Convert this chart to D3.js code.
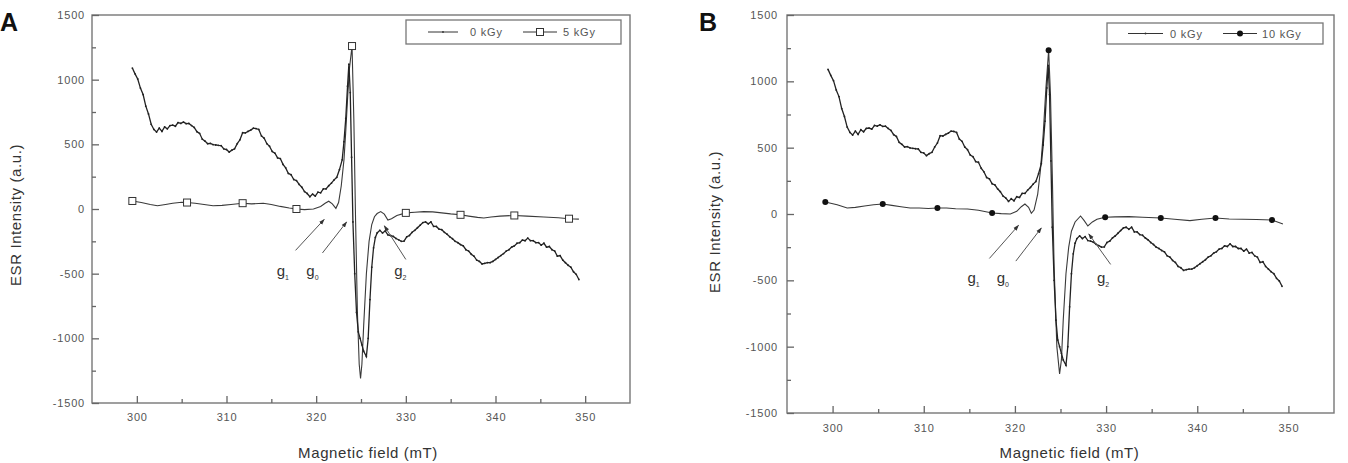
<!DOCTYPE html>
<html>
<head>
<meta charset="utf-8">
<script src="https://cdn.jsdelivr.net/npm/d3@7"></script>
<style>
  body { margin: 0; background: #fff; }
  svg { font-family: Arial, "Liberation Sans", sans-serif; }
  .tick text { fill: #555; font-size: 11px; letter-spacing: 0.8px; }
  .tick line { stroke: #666; stroke-width: 1.3; }
  .axis-label { fill: #333; font-size: 15px; letter-spacing: 0.6px; }
  .legend-text { fill: #555; font-size: 11px; letter-spacing: 0.8px; }
</style>
</head>
<body>
<svg id="chart" width="1348" height="463"></svg>
<script>
// 1: DATA, field in mT, intensity in a.u.
const fieldTicks = [300, 310, 320, 330, 340, 350];
const fieldMinorTicks = [305, 315, 325, 335, 345];
const intensityTicks = [-1500, -1000, -500, 0, 500, 1000, 1500];
const intensityMinorTicks = [-1250, -750, -250, 250, 750, 1250];

// unirradiated spectrum (same in both panels)
const field0 = [
  299.5, 299.8, 300.1, 300.4, 300.7, 301.0, 301.3, 301.6, 301.9, 302.2, 302.5, 302.8, 303.1, 303.4, 303.7,
  304.0, 304.3, 304.6, 304.9, 305.2, 305.5, 305.8, 306.1, 306.4, 306.7, 307.0, 307.3, 307.6, 307.9, 308.2,
  308.5, 308.8, 309.1, 309.4, 309.7, 310.0, 310.3, 310.6, 310.9, 311.2, 311.5, 311.8, 312.1, 312.4, 312.7,
  313.0, 313.3, 313.6, 313.9, 314.2, 314.5, 314.8, 315.1, 315.4, 315.7, 316.0, 316.3, 316.6, 316.9, 317.2,
  317.5, 317.8, 318.1, 318.4, 318.7, 319.0, 319.3, 319.6, 319.9, 320.2, 320.5, 320.8, 321.1, 321.4, 321.7,
  322.0, 322.3, 322.6, 322.9, 323.1, 323.3, 323.5, 323.65, 323.8, 323.95, 324.1, 324.3, 324.5, 324.7, 324.9,
  325.1, 325.3, 325.6, 325.8, 326.0, 326.2, 326.4, 326.6, 326.8, 327.1, 327.4, 327.7, 328.0, 328.3, 328.6,
  328.9, 329.2, 329.5, 329.8, 330.1, 330.4, 330.7, 331.0, 331.3, 331.6, 331.9, 332.2, 332.5, 332.8, 333.1,
  333.4, 333.7, 334.0, 334.3, 334.6, 334.9, 335.2, 335.5, 335.8, 336.1, 336.4, 336.7, 337.0, 337.3, 337.6,
  337.9, 338.2, 338.5, 338.8, 339.1, 339.4, 339.7, 340.0, 340.3, 340.6, 340.9, 341.2, 341.5, 341.8, 342.1,
  342.4, 342.7, 343.0, 343.3, 343.6, 343.9, 344.2, 344.5, 344.8, 345.1, 345.4, 345.7, 346.0, 346.3, 346.6,
  346.9, 347.2, 347.5, 347.8, 348.1, 348.4, 348.7, 349.0, 349.3
];
const intensity0 = [
  1090, 1045, 1005, 935, 885, 795, 735, 655, 615, 595, 625, 600, 635, 620, 645,
  648, 640, 668, 662, 672, 660, 662, 645, 630, 598, 585, 540, 525, 505, 508,
  498, 495, 492, 490, 465, 460, 440, 455, 465, 505, 535, 590, 588, 600, 610,
  625, 622, 615, 565, 548, 505, 485, 445, 432, 395, 390, 345, 318, 275, 265,
  228, 220, 190, 168, 135, 120, 95, 115, 100, 130, 125, 155, 155, 180, 200,
  225, 245, 305, 380, 520, 700, 950, 1120, 900, 400, -100, -500, -800, -950, -1000,
  -1050, -1100, -1140, -1000, -700, -450, -300, -220, -185, -165, -185, -170, -200, -205, -212,
  -228, -238, -250, -248, -215, -205, -180, -165, -145, -125, -105, -100, -115, -100, -135,
  -135, -155, -160, -180, -195, -215, -230, -250, -260, -275, -285, -315, -325, -350, -365,
  -395, -405, -425, -420, -415, -415, -405, -390, -375, -360, -345, -325, -315, -295, -285,
  -265, -260, -240, -245, -225, -245, -245, -260, -260, -280, -265, -295, -290, -315, -325,
  -365, -360, -395, -415, -435, -450, -485, -505, -545
];

// 5 kGy spectrum (panel A)
const field5 = [
  299.5, 300.5, 301.5, 302.3, 303.2, 304.0, 305.0, 305.6, 306.5, 307.5, 308.5, 309.5, 310.5, 311.8, 312.8,
  314.1, 315.0, 316.0, 317.0, 317.8, 318.7, 319.7, 320.5, 321.0, 321.4, 321.8, 322.2, 322.5, 322.8, 323.1,
  323.3, 323.5, 323.7, 324.0, 324.2, 324.4, 324.6, 324.8, 324.95, 325.1, 325.3, 325.6, 325.9, 326.2, 326.5,
  326.8, 327.2, 327.6, 328.0, 328.4, 329.0, 330.0, 331.0, 332.0, 333.0, 334.0, 335.0, 336.1, 337.0, 338.0,
  338.7, 339.5, 340.5, 342.1, 343.5, 345.4, 347.0, 348.2, 349.3
];
const intensity5 = [
  62, 50, 35, 25, 35, 45, 52, 50, 45, 35, 25, 28, 35, 45, 40,
  45, 35, 20, 8, 0, -5, 0, 20, 45, 60, 40, 5, 50, 180, 380,
  600, 850, 1080, 1260, 700, -100, -800, -1200, -1310, -1200, -900, -500, -250, -120, -60,
  -35, -20, -40, -85, -75, -50, -30, -25, -20, -22, -30, -38, -45, -55, -65,
  -70, -62, -55, -50, -55, -62, -68, -75, -78
];
const markers5 = [[299.5, 62], [305.6, 50], [311.8, 45], [317.8, 0], [324.0, 1260],
  [330.0, -30], [336.1, -45], [342.1, -50], [348.2, -75]];

// 10 kGy spectrum (panel B)
const field10 = [
  299.2, 300.5, 301.6, 302.5, 303.5, 304.5, 305.5, 306.5, 307.5, 308.5, 309.5, 310.5, 311.5, 312.5, 313.5,
  314.8, 316.0, 317.5, 318.5, 319.5, 320.2, 320.7, 321.1, 321.5, 321.8, 322.1, 322.5, 322.8, 323.1, 323.4,
  323.7, 323.9, 324.1, 324.3, 324.6, 324.9, 325.1, 325.3, 325.6, 325.9, 326.2, 326.6, 327.2, 327.6, 328.0,
  328.5, 329.0, 329.9, 331.0, 332.5, 334.0, 336.0, 337.5, 339.2, 340.5, 342.0, 343.5, 345.0, 346.5, 348.2,
  349.4
];
const intensity10 = [
  90, 70, 45, 50, 60, 70, 75, 65, 55, 45, 45, 42, 45, 45, 40,
  38, 28, 8, 3, 0, 20, 55, 75, 50, 5, 30, 150, 330, 600, 950,
  1235, 900, 300, -400, -1000, -1205, -1100, -800, -450, -250, -130, -60, -15, -50, -90,
  -60, -40, -25, -22, -20, -25, -30, -40, -50, -40, -30, -38, -40, -42, -45,
  -75
];
const markers10 = [[299.2, 90], [305.5, 75], [311.5, 45], [317.5, 8], [323.7, 1235],
  [329.9, -25], [336.0, -30], [342.0, -30], [348.2, -45]];

// annotation arrows: [tail field, tail intensity, head field, head intensity, label, sub]
const arrowsA = [
  [317.7, -320, 320.9, -80, "g", "1"],
  [320.7, -340, 323.4, -100, "g", "0"],
  [330.0, -390, 327.6, -130, "g", "2"]
];
const arrowsB = [
  [317.2, -335, 320.4, -85, "g", "1"],
  [320.1, -355, 322.9, -105, "g", "0"],
  [330.5, -380, 328.1, -150, "g", "2"]
];

const svg = d3.select("#chart");

svg.append("defs").append("marker")
  .attr("id", "arrowhead")
  .attr("viewBox", "0 0 10 10")
  .attr("refX", 9).attr("refY", 5)
  .attr("markerWidth", 6).attr("markerHeight", 6)
  .attr("orient", "auto")
  .append("path")
  .attr("d", "M0,1.5 L10,5 L0,8.5 Z")
  .attr("fill", "#333");

function drawPanel(p) {
  const g = svg.append("g");

  // scales
  const x = d3.scaleLinear().domain([295, 355]).range([p.left, p.right]);
  const y = d3.scaleLinear().domain([-1500, 1500]).range([p.bottom, p.top]);

  // frame
  g.append("rect")
    .attr("x", p.left).attr("y", p.top)
    .attr("width", p.right - p.left).attr("height", p.bottom - p.top)
    .attr("fill", "none").attr("stroke", "#777").attr("stroke-width", 1.4);

  // axes (ticks pointing inward)
  const xAxis = g.append("g")
    .attr("transform", `translate(0,${p.bottom})`)
    .call(d3.axisBottom(x).tickValues(fieldTicks).tickSize(-7).tickPadding(p.xPad).tickFormat(d => String(d)));
  xAxis.select(".domain").remove();
  const xMinor = g.append("g")
    .attr("transform", `translate(0,${p.bottom})`)
    .call(d3.axisBottom(x).tickValues(fieldMinorTicks).tickSize(-4).tickFormat(""));
  xMinor.select(".domain").remove();

  const yAxis = g.append("g")
    .attr("transform", `translate(${p.left},0)`)
    .call(d3.axisLeft(y).tickValues(intensityTicks).tickSize(-7).tickPadding(p.yPad).tickFormat(d => String(d)));
  yAxis.select(".domain").remove();
  const yMinor = g.append("g")
    .attr("transform", `translate(${p.left},0)`)
    .call(d3.axisLeft(y).tickValues(intensityMinorTicks).tickSize(-4).tickFormat(""));
  yMinor.select(".domain").remove();

  // curves
  const line = d3.line().x(d => x(d[0])).y(d => y(d[1]));
  const base = d3.zip(field0, intensity0);
  const irr = d3.zip(p.field, p.intensity);

  g.append("path").datum(irr)
    .attr("fill", "none").attr("stroke", "#3a3a3a").attr("stroke-width", 1.1)
    .attr("d", line);

  g.append("path").datum(base)
    .attr("fill", "none").attr("stroke", "#222").attr("stroke-width", 1.3)
    .attr("d", line);
  g.selectAll(".dot0").data(base).join("circle")
    .attr("cx", d => x(d[0])).attr("cy", d => y(d[1]))
    .attr("r", 0.9).attr("fill", "#222");

  // markers on irradiated curve
  if (p.markerType === "square") {
    g.selectAll(".mk").data(p.markers).join("rect")
      .attr("x", d => x(d[0]) - 3.5).attr("y", d => y(d[1]) - 3.5)
      .attr("width", 7).attr("height", 7)
      .attr("fill", "#fff").attr("stroke", "#333").attr("stroke-width", 1);
  } else {
    g.selectAll(".mk").data(p.markers).join("circle")
      .attr("cx", d => x(d[0])).attr("cy", d => y(d[1]))
      .attr("r", 3).attr("fill", "#111");
  }

  // annotations
  p.arrows.forEach(a => {
    g.append("line")
      .attr("x1", x(a[0])).attr("y1", y(a[1]))
      .attr("x2", x(a[2])).attr("y2", y(a[3]))
      .attr("stroke", "#555").attr("stroke-width", 1)
      .attr("marker-end", "url(#arrowhead)");
  });
  p.labels.forEach((l, i) => {
    const t = g.append("text")
      .attr("x", x(l[0])).attr("y", y(l[1]))
      .attr("fill", "#333").attr("font-size", 15)
      .text(p.arrows[i][4]);
    t.append("tspan").attr("dy", 4).attr("font-size", 7).text(p.arrows[i][5]);
  });

  // legend
  const lg = g.append("g");
  lg.append("rect")
    .attr("x", p.legend.x).attr("y", p.legend.y)
    .attr("width", p.legend.w).attr("height", p.legend.h)
    .attr("fill", "#fff").attr("stroke", "#777").attr("stroke-width", 1.3);
  const ly = p.legend.y + p.legend.h / 2;
  lg.append("line").attr("x1", p.legend.l1[0]).attr("x2", p.legend.l1[1])
    .attr("y1", ly).attr("y2", ly).attr("stroke", "#333").attr("stroke-width", 1);
  lg.append("circle").attr("cx", (p.legend.l1[0] + p.legend.l1[1]) / 2).attr("cy", ly)
    .attr("r", 0.9).attr("fill", "#333");
  lg.append("text").attr("class", "legend-text")
    .attr("x", p.legend.t1).attr("y", ly + 4).text("0 kGy");
  lg.append("line").attr("x1", p.legend.l2[0]).attr("x2", p.legend.l2[1])
    .attr("y1", ly).attr("y2", ly).attr("stroke", "#333").attr("stroke-width", 1);
  const mx = (p.legend.l2[0] + p.legend.l2[1]) / 2;
  if (p.markerType === "square") {
    lg.append("rect").attr("x", mx - 3.5).attr("y", ly - 3.5).attr("width", 7).attr("height", 7)
      .attr("fill", "#fff").attr("stroke", "#333");
  } else {
    lg.append("circle").attr("cx", mx).attr("cy", ly).attr("r", 3).attr("fill", "#111");
  }
  lg.append("text").attr("class", "legend-text")
    .attr("x", p.legend.t2).attr("y", ly + 4).text(p.series);

  // axis titles
  g.append("text").attr("class", "axis-label")
    .attr("text-anchor", "middle")
    .attr("x", (p.left + p.right) / 2 + p.xTitleShift).attr("y", 458)
    .text("Magnetic field (mT)");
  g.append("text").attr("class", "axis-label")
    .attr("text-anchor", "middle")
    .attr("transform", `translate(${p.yTitleX},${p.yTitleY}) rotate(-90)`)
    .text("ESR Intensity (a.u.)");

  // panel letter
  g.append("text")
    .attr("x", p.letterX).attr("y", 31)
    .attr("font-size", 25).attr("font-weight", "bold").attr("fill", "#111")
    .text(p.letter);
}

drawPanel({
  letter: "A", letterX: 0, series: "5 kGy",
  left: 92, top: 15, right: 630, bottom: 403, xPad: 10, yPad: 7,
  field: field5, intensity: intensity5, markers: markers5, markerType: "square",
  arrows: arrowsA,
  labels: [[315.6, -520], [318.9, -520], [328.7, -520]],
  legend: { x: 406, y: 20, w: 215, h: 24, l1: [428, 458], t1: 470, l2: [523, 557], t2: 563 },
  xTitleShift: 7, yTitleX: 21, yTitleY: 215
});

drawPanel({
  letter: "B", letterX: 699, series: "10 kGy",
  left: 787, top: 15, right: 1334, bottom: 413, xPad: 11, yPad: 9,
  field: field10, intensity: intensity10, markers: markers10, markerType: "circle",
  arrows: arrowsB,
  labels: [[314.8, -520], [318.0, -520], [329.0, -520]],
  legend: { x: 1107, y: 23, w: 216, h: 21, l1: [1128, 1163], t1: 1170, l2: [1223, 1257], t2: 1262 },
  xTitleShift: 9, yTitleX: 720, yTitleY: 222
});
</script>
</body>
</html>
